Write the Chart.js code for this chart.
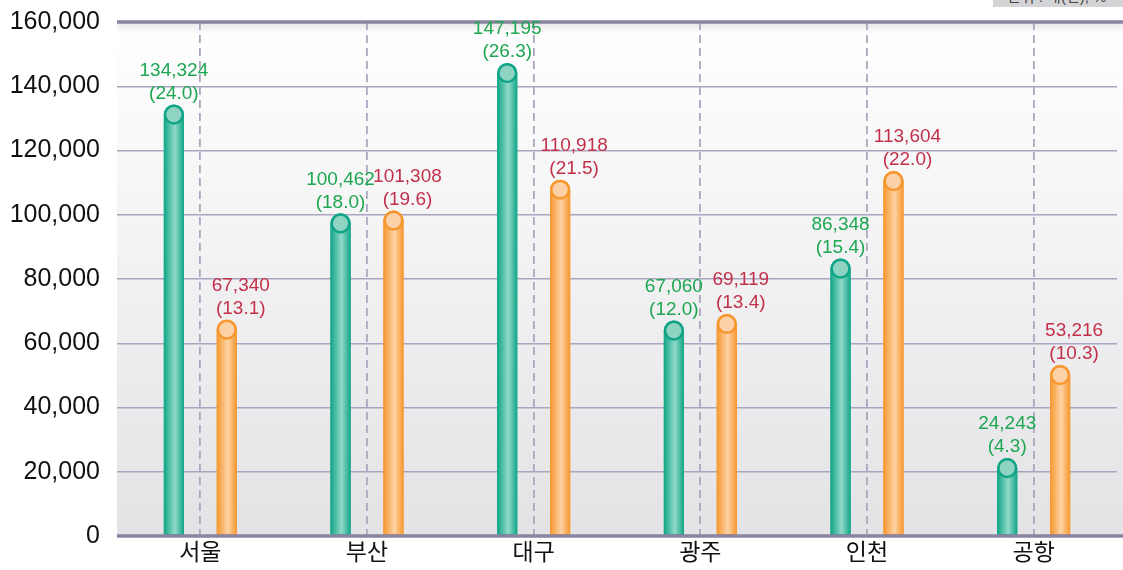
<!DOCTYPE html>
<html>
<head>
<meta charset="utf-8">
<script src="https://cdn.jsdelivr.net/npm/chart.js@4/dist/chart.umd.min.js"></script>
<style>
  body { margin: 0; background: #fff; }
  #wrap { position: relative; width: 1123px; height: 570px; overflow: hidden; }
  #unit {
    position: absolute; left: 993px; top: 0; width: 130px; height: 7px;
    background: #d4d4d6; overflow: hidden;
    font: 15px "Liberation Sans", "Noto Sans CJK KR", sans-serif; color: #444;
  }
  #unit span { display: block; margin-top: -15px; padding-left: 14px; }
</style>
</head>
<body>
<div id="wrap">
  <canvas id="chart" width="1123" height="570"></canvas>
  <div id="unit"><span>단위 : 대(건), %</span></div>
</div>
<script>
// Data
const categories = ["서울", "부산", "대구", "광주", "인천", "공항"];
const greenValues = [134324, 100462, 147195, 67060, 86348, 24243];
const greenShares = [24.0, 18.0, 26.3, 12.0, 15.4, 4.3];
const orangeValues = [67340, 101308, 110918, 69119, 113604, 53216];
const orangeShares = [13.1, 19.6, 21.5, 13.4, 22.0, 10.3];
const yTicks = [0, 20000, 40000, 60000, 80000, 100000, 120000, 140000, 160000];

const FONT = '"Liberation Sans", "Noto Sans CJK KR", sans-serif';

// look of each series
const seriesStyle = [
  { edge: "#10a586", light: "#92d9c9", cap: "#8fd3c3", text: "#1ea652", shares: greenShares, dx: 0 },
  { edge: "#f7962c", light: "#fdd3a6", cap: "#fdd1a8", text: "#c23049", shares: orangeShares, dx: 14 },
];

const fmt = (v) => v.toLocaleString("en-US");

// background of the plot + thick top line
const backdrop = {
  id: "backdrop",
  beforeDraw(chart) {
    const { ctx, chartArea: a } = chart;
    ctx.save();
    ctx.fillStyle = "#fff";
    ctx.fillRect(0, 0, chart.width, chart.height);
    const g = ctx.createLinearGradient(0, a.top, 0, a.bottom);
    g.addColorStop(0, "#ffffff");
    g.addColorStop(1, "#e3e3e6");
    ctx.fillStyle = g;
    ctx.fillRect(a.left, a.top, chart.width - a.left, a.bottom - a.top);
    // soft shadow under the top line
    const s = ctx.createLinearGradient(0, a.top, 0, a.top + 12);
    s.addColorStop(0, "rgba(120,120,130,0.18)");
    s.addColorStop(1, "rgba(120,120,130,0)");
    ctx.fillStyle = s;
    ctx.fillRect(a.left, a.top, chart.width - a.left, 12);
    ctx.restore();
  },
  beforeDatasetsDraw(chart) {
    const { ctx, chartArea: a } = chart;
    ctx.save();
    ctx.strokeStyle = "#8a84a1";
    ctx.lineWidth = 3.5;
    ctx.beginPath();
    ctx.moveTo(a.left, a.top);
    ctx.lineTo(chart.width, a.top);
    ctx.stroke();
    ctx.restore();
  },
};

// shine on bars, round caps, value labels
const caps = {
  id: "caps",
  afterDatasetsDraw(chart) {
    const { ctx, chartArea: a } = chart;
    ctx.save();
    ctx.strokeStyle = "#8a84a1";
    ctx.lineWidth = 3.5;
    ctx.beginPath();
    ctx.moveTo(a.left, a.bottom);
    ctx.lineTo(chart.width, a.bottom);
    ctx.stroke();

    chart.data.datasets.forEach((ds, di) => {
      const st = seriesStyle[di];
      chart.getDatasetMeta(di).data.forEach((bar, i) => {
        const w = bar.width;
        const r = w / 2;
        const x0 = bar.x - r;
        const cy = bar.y + r;
        const g = ctx.createLinearGradient(x0, 0, x0 + w, 0);
        g.addColorStop(0, st.edge);
        g.addColorStop(0.55, st.light);
        g.addColorStop(1, st.edge);
        ctx.fillStyle = g;
        ctx.fillRect(x0, cy, w, a.bottom - 2 - cy);

        ctx.beginPath();
        ctx.arc(bar.x, cy, r - 1.2, 0, Math.PI * 2);
        ctx.fillStyle = st.cap;
        ctx.fill();
        ctx.lineWidth = 2.5;
        ctx.strokeStyle = st.edge;
        ctx.stroke();

        ctx.fillStyle = st.text;
        ctx.font = "19px " + FONT;
        ctx.textAlign = "center";
        ctx.textBaseline = "middle";
        const lx = bar.x + st.dx;
        ctx.fillText(fmt(ds.data[i]), lx, bar.y - 34);
        ctx.fillText("(" + st.shares[i].toFixed(1) + ")", lx, bar.y - 11);
      });
    });
    ctx.restore();
  },
};

new Chart(document.getElementById("chart"), {
  type: "bar",
  plugins: [backdrop, caps],
  data: {
    labels: categories,
    datasets: [
      { data: greenValues, backgroundColor: seriesStyle[0].edge },
      { data: orangeValues, backgroundColor: seriesStyle[1].edge },
    ],
  },
  options: {
    responsive: false,
    animation: false,
    devicePixelRatio: 1,
    layout: { padding: { top: 22, right: 6, left: 0, bottom: 0 } },
    datasets: {
      bar: {
        barPercentage: 0.38,
        categoryPercentage: 0.635,
        borderRadius: { topLeft: 10, topRight: 10, bottomLeft: 0, bottomRight: 0 },
        borderSkipped: "start",
      },
    },
    plugins: { legend: { display: false }, tooltip: { enabled: false } },
    scales: {
      x: {
        afterFit: (s) => { s.height = 34; },
        grid: { offset: false, color: "#aca7c0", lineWidth: 1.8, drawTicks: false },
        border: { display: false, dash: [8, 5] },
        ticks: { color: "#111", padding: 4, font: { size: 23, family: FONT } },
      },
      y: {
        min: 0,
        max: 160000,
        afterFit: (s) => { s.width = 117; s.paddingTop = 0; s.paddingBottom = 0; },
        afterBuildTicks: (s) => { s.ticks = yTicks.map((v) => ({ value: v })); },
        grid: {
          drawTicks: false,
          lineWidth: 1.5,
          color: (c) => (c.tick && (c.tick.value === 0 || c.tick.value === 160000) ? "rgba(0,0,0,0)" : "#aaa4bf"),
        },
        border: { display: false },
        ticks: { color: "#111", padding: 17, font: { size: 25, family: FONT }, callback: (v) => fmt(v) },
      },
    },
  },
});
</script>
</body>
</html>
